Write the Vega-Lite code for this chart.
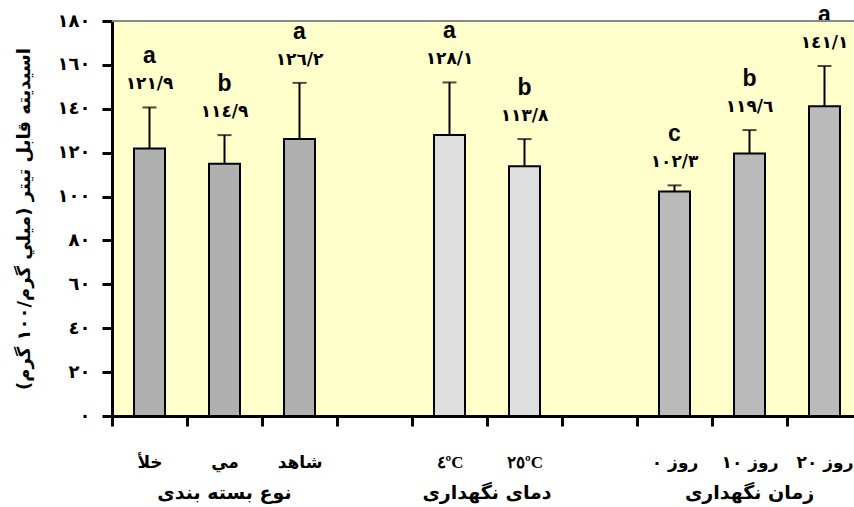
{
  "$schema": "https://vega.github.io/schema/vega-lite/v6.json",
  "autosize": {"type": "none"},
  "width": 742,
  "height": 395,
  "padding": {"left": 112, "top": 21, "right": 0, "bottom": 91},
  "background": "white",
  "config": {"view": {"stroke": null, "fill": "#FFFFCC"}},
  "data": {"values": [
    {"cat": "خلأ", "group": "pack", "value": 121.9, "err_top": 140.6, "label": "١٢١/٩", "letter": "a"},
    {"cat": "مي", "group": "pack", "value": 114.9, "err_top": 128.0, "label": "١١٤/٩", "letter": "b"},
    {"cat": "شاهد", "group": "pack", "value": 126.2, "err_top": 151.8, "label": "١٢٦/٢", "letter": "a"},
    {"cat": "٤ºC", "group": "temp", "value": 128.1, "err_top": 152.0, "label": "١٢٨/١", "letter": "a"},
    {"cat": "٢٥ºC", "group": "temp", "value": 113.8, "err_top": 126.2, "label": "١١٣/٨", "letter": "b"},
    {"cat": "روز ٠", "group": "time", "value": 102.3, "err_top": 105.1, "label": "١٠٢/٣", "letter": "c"},
    {"cat": "روز ١٠", "group": "time", "value": 119.6, "err_top": 130.3, "label": "١١٩/٦", "letter": "b"},
    {"cat": "روز ٢٠", "group": "time", "value": 141.1, "err_top": 159.5, "label": "١٤١/١", "letter": "a"}
  ]},
  "resolve": {"axis": {"x": "independent"}},
  "layer": [
    {
      "mark": {"type": "bar", "width": 31, "stroke": "black", "strokeWidth": 2},
      "encoding": {
        "x": {"field": "cat", "type": "nominal", "sort": null,
          "scale": {"domain": ["خلأ","مي","شاهد"," ","٤ºC","٢٥ºC","  ","روز ٠","روز ١٠","روز ٢٠"], "range": [0, 750], "paddingInner": 0, "paddingOuter": 0},
          "axis": {"orient": "bottom", "title": null, "labelAngle": 0, "tickBand": "extent",
            "domainColor": "black", "domainWidth": 3, "tickColor": "black", "tickWidth": 3, "tickSize": 10,
            "labelFontSize": 17, "labelFontWeight": "bold", "labelColor": "black", "labelPadding": 36,
            "labelBaseline": "middle",
            "labelFont": {"condition": {"test": "datum.value == '٤ºC' || datum.value == '٢٥ºC'", "value": "Liberation Serif"}, "value": "DejaVu Sans"}}},
        "y": {"field": "value", "type": "quantitative",
          "scale": {"domain": [0, 180], "nice": false},
          "axis": {"values": [0,20,40,60,80,100,120,140,160,180],
            "labelExpr": "['٠','٢٠','٤٠','٦٠','٨٠','١٠٠','١٢٠','١٤٠','١٦٠','١٨٠'][round(datum.value/20)]",
            "grid": false, "domainColor": "black", "domainWidth": 3, "tickColor": "black", "tickWidth": 3, "tickSize": 10,
            "labelFont": "DejaVu Sans", "labelFontSize": 18, "labelFontWeight": "bold", "labelColor": "black", "labelPadding": 12,
            "title": "‏اسيديته قابل تيتر (ميلي گرم/١٠٠ گرم)‏", "titleFont": "DejaVu Sans", "titleFontSize": 18, "titleFontWeight": "bold", "titleColor": "black", "titlePadding": 24}},
        "fill": {"field": "group", "type": "nominal", "legend": null,
          "scale": {"domain": ["pack", "temp", "time"], "range": ["#b0b0b0", "#dedede", "#bababa"]}}
      }
    },
    {
      "mark": {"type": "rule", "color": "black", "strokeWidth": 2},
      "encoding": {
        "x": {"field": "cat", "type": "nominal", "sort": null,
          "axis": {"orient": "bottom", "title": null, "labelAngle": 0, "domain": false, "ticks": false,
            "labelExpr": "datum.value == 'مي' ? 'نوع بسته بندی' : datum.value == '٤ºC' ? 'دمای نگهداری' : datum.value == 'روز ١٠' ? 'زمان نگهداری' : ''",
            "labelOffset": {"condition": {"test": "datum.value == '٤ºC'", "value": 37.5}, "value": 0},
            "labelFont": "DejaVu Sans", "labelFontSize": 19, "labelFontWeight": "bold", "labelColor": "black",
            "labelPadding": 76, "labelBaseline": "middle"}},
        "y": {"field": "value", "type": "quantitative", "title": "‏اسيديته قابل تيتر (ميلي گرم/١٠٠ گرم)‏"},
        "y2": {"field": "err_top"}
      }
    },
    {
      "mark": {"type": "tick", "color": "black", "size": 14, "thickness": 2},
      "encoding": {
        "x": {"field": "cat", "type": "nominal", "sort": null, "axis": null},
        "y": {"field": "err_top", "type": "quantitative", "title": "‏اسيديته قابل تيتر (ميلي گرم/١٠٠ گرم)‏"}
      }
    },
    {
      "mark": {"type": "text", "font": "DejaVu Sans", "fontSize": 17, "fontWeight": "bold", "color": "black", "baseline": "middle", "dy": -23},
      "encoding": {
        "x": {"field": "cat", "type": "nominal", "sort": null, "axis": null},
        "y": {"field": "err_top", "type": "quantitative", "title": "‏اسيديته قابل تيتر (ميلي گرم/١٠٠ گرم)‏"},
        "text": {"field": "label"}
      }
    },
    {
      "mark": {"type": "text", "font": "Liberation Sans", "fontSize": 23, "fontWeight": "bold", "color": "black", "baseline": "middle", "dy": -51},
      "encoding": {
        "x": {"field": "cat", "type": "nominal", "sort": null, "axis": null},
        "y": {"field": "err_top", "type": "quantitative", "title": "‏اسيديته قابل تيتر (ميلي گرم/١٠٠ گرم)‏"},
        "text": {"field": "letter"}
      }
    },
    {
      "mark": {"type": "rule", "color": "#888888", "strokeWidth": 2},
      "encoding": {
        "y": {"datum": 180, "type": "quantitative", "title": "‏اسيديته قابل تيتر (ميلي گرم/١٠٠ گرم)‏"}
      }
    }
  ]
}
